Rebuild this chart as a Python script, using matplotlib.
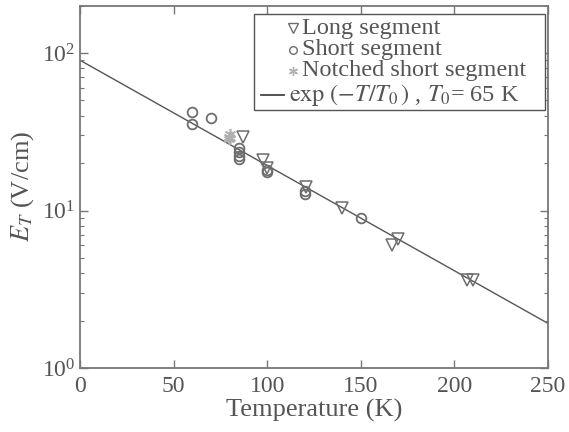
import numpy as np
import matplotlib
matplotlib.use("Agg")
import matplotlib.pyplot as plt
from matplotlib.patches import Rectangle
from matplotlib.lines import Line2D
from matplotlib.ticker import LogLocator, NullFormatter

plt.rcParams['font.family'] = ['Liberation Serif', 'DejaVu Serif']
plt.rcParams['mathtext.fontset'] = 'stix'

# Threshold field measurements
long_T = [87, 97.5, 100, 121, 140, 166.5, 170, 207, 210]
long_E = [29.3, 21.0, 18.7, 14.2, 10.4, 6.05, 6.6, 3.6, 3.6]

short_T = [60, 60, 70, 85, 85, 85, 85, 100, 100, 120, 120, 150]
short_E = [42.4, 35.6, 38.8, 25.0, 23.5, 22.2, 21.4, 17.6, 18.2, 12.8, 13.3, 8.95]

notched_T = [79.5, 79.5, 80, 80]
notched_E = [28.3, 29.5, 30.5, 29.0]

# Exponential fit parameters
fit_A = 90.0
fit_T0 = 65.0

gray = '#6e6e6e'
text_c = '#555555'
star = (6, 2, 0)

fig = plt.figure(figsize=(5.69, 4.32), dpi=100)
ax = fig.add_axes([0.1406, 0.148, 0.963 - 0.1406, 0.987 - 0.148])

T_fit = np.linspace(0, 250, 200)
ax.plot(T_fit, fit_A * np.exp(-T_fit / fit_T0), color='#555555', lw=1.0, zorder=1)
ax.plot(long_T, long_E, 'v', ms=9, mfc='none', mec=gray, mew=1.1, zorder=3)
ax.plot(short_T, short_E, 'o', ms=7, mfc='none', mec=gray, mew=1.3, zorder=3)
ax.plot(notched_T, notched_E, ls='none', marker=star, ms=8,
        color='#b0b0b0', mec='#b0b0b0', mew=1.2, zorder=2)

ax.set_yscale('log')
ax.set_xlim(0, 250)
ax.set_ylim(1, 200)
ax.set_xticks([0, 50, 100, 150, 200, 250])
ax.yaxis.set_major_locator(LogLocator(base=10, numticks=10))
ax.yaxis.set_minor_locator(LogLocator(base=10, subs=np.arange(2, 10), numticks=10))
ax.yaxis.set_minor_formatter(NullFormatter())

ax.tick_params(which='both', direction='in', top=True, right=True,
               colors='#777777', labelcolor=text_c, labelsize=17)
ax.tick_params(which='major', length=6, width=1.0)
ax.tick_params(which='minor', length=3, width=0.8)
ax.tick_params(axis='x', pad=6)
for s in ax.spines.values():
    s.set_color('#777777')
    s.set_linewidth(1.3)

ax.set_xlabel('Temperature (K)', fontsize=19, color=text_c, labelpad=1)
ax.set_ylabel(r'$E_T$ (V/cm)', fontsize=19, color=text_c, labelpad=4)

# Legend box laid out by hand (axes coordinates)
tA = ax.transAxes
ax.add_patch(Rectangle((0.371, 0.712), 0.994 - 0.371, 0.977 - 0.712,
                       transform=tA, fill=True, facecolor='white',
                       edgecolor='#555555', lw=1.0, zorder=5, clip_on=False))
rows_y = [0.938, 0.878, 0.820, 0.754]
entries = [('Long segment', dict(marker='v', ms=6.5, mfc='none', mec=gray, mew=1.0)),
           ('Short segment', dict(marker='o', ms=5.5, mfc='none', mec=gray, mew=1.0)),
           ('Notched short segment', dict(marker=star, ms=6.5, color='#b0b0b0',
                                          mec='#b0b0b0', mew=1.0))]
for (lab, mk), yy in zip(entries, rows_y[:3]):
    ax.add_line(Line2D([0.455], [yy], transform=tA, ls='none', zorder=6,
                       clip_on=False, **mk))
    ax.text(0.475, yy, lab, transform=tA, fontsize=17.5, color=text_c,
            va='center', ha='left', zorder=6)
ax.add_line(Line2D([0.386, 0.437], [rows_y[3], rows_y[3]], transform=tA,
                   color='#444444', lw=1.3, zorder=6, clip_on=False))
ax.text(0.446, rows_y[3], r'$\exp\,(-T/T_0\,)$ , $T_0$= 65 K', transform=tA,
        fontsize=17.5, color=text_c, va='center', ha='left', zorder=6)

fig.savefig('out.png', dpi=100)
